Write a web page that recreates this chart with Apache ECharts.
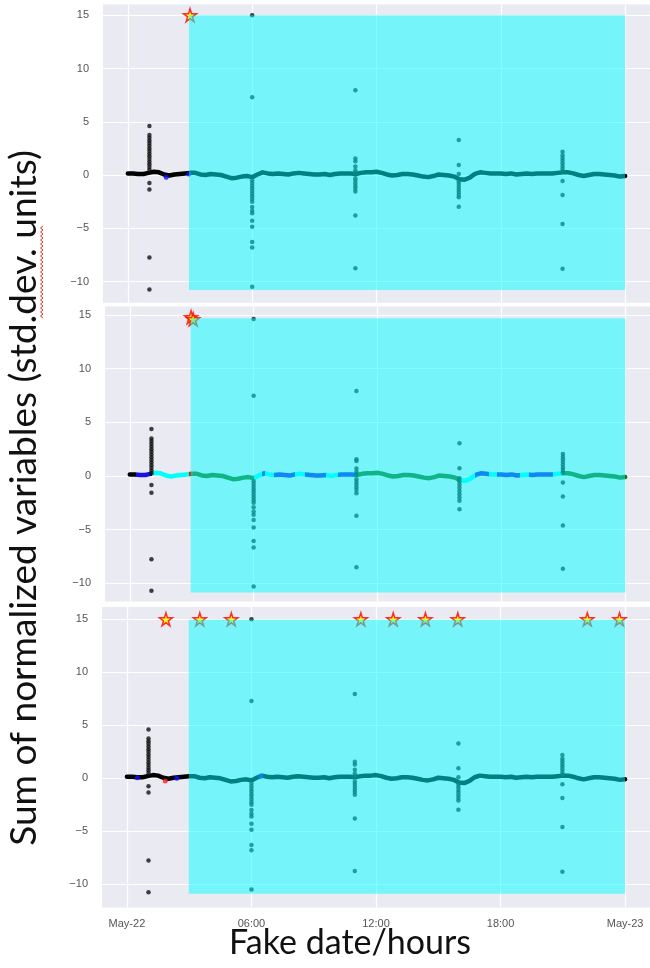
<!DOCTYPE html>
<html>
<head>
<meta charset="utf-8">
<script src="https://cdn.jsdelivr.net/npm/echarts@6/dist/echarts.min.js"></script>
<style>
html, body { margin: 0; padding: 0; background: #fff; }
#chart { width: 650px; height: 968px; }
</style>
</head>
<body>
<div id="chart"></div>
<script>
// x values are hours after May-22 00:00
var xTicks = [0, 6, 12, 18, 24];
var xTickLabels = ['May-22', '06:00', '12:00', '18:00', 'May-23'];
var yTicks = [-10, -5, 0, 5, 10, 15];

// slow baseline (same signal in the three panels)
var baseline = [
  [0, 0.15], [0.25, 0.15], [0.5, 0.1], [0.75, 0.1], [1, 0.2], [1.25, 0.3], [1.5, 0.25], [1.75, 0.05],
  [2, -0.05], [2.25, 0.05], [2.5, 0.1], [2.75, 0.15], [3, 0.2], [3.25, 0.2], [3.5, 0.05], [3.75, 0],
  [4, 0.1], [4.25, 0.05], [4.5, 0], [4.75, -0.15], [5, -0.3], [5.25, -0.25], [5.5, -0.15], [5.75, -0.1],
  [6, -0.2], [6.25, 0.05], [6.5, 0.25], [6.75, 0.15], [7, 0.1], [7.25, 0.15], [7.5, 0.1], [7.75, 0.05],
  [8, 0.15], [8.25, 0.2], [8.5, 0.15], [8.75, 0.1], [9, 0.05], [9.25, 0.05], [9.5, 0.1], [9.75, 0],
  [10, 0.1], [10.25, 0.15], [10.5, 0.15], [10.75, 0.15], [11, 0.1], [11.25, 0.2], [11.5, 0.25], [11.75, 0.25],
  [12, 0.3], [12.25, 0.2], [12.5, 0.05], [12.75, -0.05], [13, 0], [13.25, 0.1], [13.5, 0.1], [13.75, 0.05],
  [14, -0.05], [14.25, -0.15], [14.5, -0.2], [14.75, -0.1], [15, 0.05], [15.25, 0], [15.5, -0.05], [15.75, -0.15],
  [16, -0.4], [16.25, -0.45], [16.5, -0.25], [16.75, 0.1], [17, 0.25], [17.25, 0.2], [17.5, 0.15], [17.75, 0.15],
  [18, 0.15], [18.25, 0.1], [18.5, 0.15], [18.75, 0.05], [19, 0.1], [19.25, 0.15], [19.5, 0.1], [19.75, 0.15],
  [20, 0.15], [20.25, 0.15], [20.5, 0.15], [20.75, 0.2], [21, 0.25], [21.25, 0.25], [21.5, 0.15], [21.75, 0],
  [22, -0.1], [22.25, 0], [22.5, 0.1], [22.75, 0.1], [23, 0.05], [23.25, 0], [23.5, -0.05], [23.75, -0.15], [24, -0.1]
];

// outlier bursts, panels 1 and 3
var spikesA = [
  [1.04, 4.6], [1.04, 3.75], [1.04, 3.5], [1.04, 3.25], [1.04, 3.0], [1.04, 2.75], [1.04, 2.5], [1.04, 2.25],
  [1.04, 2.0], [1.04, 1.75], [1.04, 1.5], [1.04, 1.25], [1.04, 1.0], [1.04, 0.75], [1.04, 0.5],
  [1.04, -0.75], [1.04, -1.35], [1.04, -7.75], [1.04, -10.75],
  [6, 15], [6, 7.3], [6, -0.5], [6, -0.75], [6, -1.0], [6, -1.25], [6, -1.5], [6, -1.75], [6, -2.0],
  [6, -2.25], [6, -2.5], [6, -3.0], [6, -3.35], [6, -3.6], [6, -4.3], [6, -4.85], [6, -6.3], [6, -6.8], [6, -10.5],
  [10.98, 7.95], [10.98, 1.55], [10.98, 1.3], [10.98, 0.8], [10.98, 0.45], [10.98, 0.2], [10.98, -0.3],
  [10.98, -0.55], [10.98, -0.8], [10.98, -1.05], [10.98, -1.3], [10.98, -1.55], [10.98, -3.8], [10.98, -8.75],
  [15.97, 3.28], [15.97, 0.94], [15.97, 0.1], [15.97, -0.6], [15.97, -0.85], [15.97, -1.1], [15.97, -1.35],
  [15.97, -1.6], [15.97, -1.85], [15.97, -2.1], [15.97, -2.97],
  [20.98, 2.19], [20.98, 1.85], [20.98, 1.6], [20.98, 1.35], [20.98, 1.1], [20.98, 0.85], [20.98, 0.6],
  [20.98, 0.35], [20.98, -0.56], [20.98, -1.87], [20.98, -4.59], [20.98, -8.81]
];

// outlier bursts, panel 2
var spikesB = [
  [1.05, 4.38], [1.05, 3.5], [1.05, 3.25], [1.05, 3.0], [1.05, 2.75], [1.05, 2.5], [1.05, 2.25], [1.05, 2.0],
  [1.05, 1.75], [1.05, 1.5], [1.05, 1.25], [1.05, 1.0], [1.05, 0.75], [1.05, 0.5], [1.05, 0.25],
  [1.05, -0.84], [1.05, -1.55], [1.05, -7.76], [1.05, -10.7],
  [6, 14.63], [6, 7.48], [6, -0.5], [6, -0.75], [6, -1.0], [6, -1.25], [6, -1.5], [6, -1.75], [6, -2.0],
  [6, -2.25], [6, -2.5], [6, -2.9], [6, -3.3], [6, -3.6], [6, -4.1], [6, -4.8], [6, -6.06], [6, -6.65], [6, -10.3],
  [10.98, 7.92], [10.98, 1.55], [10.98, 1.4], [10.98, 0.7], [10.98, 0.4], [10.98, 0.15], [10.98, -0.3],
  [10.98, -0.55], [10.98, -0.8], [10.98, -1.05], [10.98, -1.3], [10.98, -1.6], [10.98, -3.7], [10.98, -8.5],
  [15.97, 3.05], [15.97, 0.72], [15.97, -0.2], [15.97, -0.5], [15.97, -0.8], [15.97, -1.1], [15.97, -1.4],
  [15.97, -1.7], [15.97, -2.0], [15.97, -2.3], [15.97, -3.1],
  [20.98, 2.05], [20.98, 1.8], [20.98, 1.55], [20.98, 1.3], [20.98, 1.05], [20.98, 0.8], [20.98, 0.55],
  [20.98, 0.3], [20.98, -0.6], [20.98, -1.9], [20.98, -4.6], [20.98, -8.65]
];

// a few off-colour cluster points sitting on the baseline
var bluePoints1 = [[1.85, -0.2], [2.95, 0.1]];
var bluePoints3 = [[0.5, 0.05], [2.4, 0.0], [6.45, 0.2]];
var redPoints3 = [[1.85, -0.25]];

// panel 2 cluster labels along the baseline: [from, to, cluster]
var p2Segments = [
  [-1, 0.3, 0], [0.3, 1.0, 1], [1.0, 1.1, 0], [1.1, 2.85, 2], [2.85, 3.05, 4], [3.05, 6.0, 3],
  [6.0, 6.4, 2], [6.4, 6.55, 1], [6.55, 7.0, 2], [7.0, 8.0, 1], [8.0, 8.5, 2], [8.5, 9.5, 1],
  [9.5, 10.1, 2], [10.1, 10.9, 1], [10.9, 16.0, 3], [16.0, 16.7, 2], [16.7, 17.4, 1], [17.4, 17.8, 2],
  [17.8, 18.9, 1], [18.9, 19.35, 2], [19.35, 20.5, 1], [20.5, 20.95, 2], [20.95, 25, 3]
];

// detected events (stars)
var stars1 = [[3.0, 15]];
var stars2 = [[2.97, 14.8], [3.07, 14.6]];
var stars3 = [[1.88, 15], [3.51, 15], [5.03, 15], [11.27, 15], [12.83, 15], [14.38, 15], [15.94, 15], [22.18, 15], [23.73, 15]];

// shaded "abnormal" window: [xFrom, xTo, yFrom, yTo]
var shade1 = [2.95, 24, -10.8, 15];
var shade2 = [2.95, 24, -10.85, 14.7];
var shade3 = [2.98, 24, -10.9, 14.95];

var clusterColors = ['#000000', '#1a10e8', '#00ffff', '#1e6a10', '#c03000'];
var starPath = 'path://M50,0 L61,35 L98,35 L68,57 L79,91 L50,70 L21,91 L32,57 L2,35 L39,35 Z';

var myChart = echarts.init(document.getElementById('chart'));

var panels = [
  { grid: { left: 103, top: 4.6, width: 549, height: 298.2 }, yMin: -12, yMax: 16, spikes: spikesA, stars: stars1, shade: shade1 },
  { grid: { left: 105, top: 306.4, width: 549, height: 295.2 }, yMin: -11.7, yMax: 15.8, spikes: spikesB, stars: stars2, shade: shade2 },
  { grid: { left: 102, top: 607.1, width: 549, height: 300.5 }, yMin: -12.2, yMax: 16.15, spikes: spikesA, stars: stars3, shade: shade3 }
];

var grids = [], xAxes = [], yAxes = [], series = [];
panels.forEach(function (p, i) {
  grids.push(Object.assign({ show: true, backgroundColor: '#eaeaf2', borderWidth: 0 }, p.grid));
  xAxes.push({
    type: 'value', gridIndex: i, min: -1.2, max: 25.2,
    axisLine: { show: false },
    axisTick: { show: false, customValues: xTicks },
    splitLine: { show: true, lineStyle: { color: '#ffffff', width: 1.2 } },
    axisLabel: {
      show: i === 2, customValues: xTicks, margin: 11,
      fontFamily: 'Liberation Sans', fontSize: 11, color: '#555',
      formatter: function (v) { return xTickLabels[xTicks.indexOf(v)]; }
    }
  });
  yAxes.push({
    type: 'value', gridIndex: i, min: p.yMin, max: p.yMax,
    axisLine: { show: false },
    axisTick: { show: false, customValues: yTicks },
    splitLine: { show: true, lineStyle: { color: '#ffffff', width: 1.2 } },
    axisLabel: {
      customValues: yTicks, margin: 14,
      fontFamily: 'Liberation Sans', fontSize: 11, color: '#555',
      formatter: function (v) { return String(v).replace('-', '\u2212'); }
    }
  });
  var lineStyle = { width: 4.5, cap: 'round', join: 'round' };
  if (i !== 1) lineStyle.color = '#000';
  series.push({
    type: 'line', xAxisIndex: i, yAxisIndex: i, data: baseline, z: 2,
    showSymbol: false, smooth: false, silent: true,
    itemStyle: { color: '#000' },
    lineStyle: lineStyle,
    markArea: {
      silent: true, z: 10,
      itemStyle: { color: 'rgba(0,255,255,0.5)' },
      data: [[{ coord: [p.shade[0], p.shade[2]] }, { coord: [p.shade[1], p.shade[3]] }]]
    }
  });
  series.push({
    type: 'scatter', xAxisIndex: i, yAxisIndex: i, data: p.spikes, z: 3,
    symbolSize: 4.5, itemStyle: { color: '#111' }
  });
  series.push({
    type: 'scatter', xAxisIndex: i, yAxisIndex: i, data: p.stars, z: 4,
    symbol: starPath, symbolSize: 13,
    itemStyle: { color: '#ffff00', borderColor: '#ff0000', borderWidth: 1.5 }
  });
});

series.push({ type: 'scatter', xAxisIndex: 0, yAxisIndex: 0, data: bluePoints1, z: 3, symbolSize: 5, itemStyle: { color: '#1010ff' } });
series.push({ type: 'scatter', xAxisIndex: 2, yAxisIndex: 2, data: bluePoints3, z: 3, symbolSize: 5, itemStyle: { color: '#1010ff' } });
series.push({ type: 'scatter', xAxisIndex: 2, yAxisIndex: 2, data: redPoints3, z: 3, symbolSize: 5, itemStyle: { color: '#ff2020' } });

// wavy spell-check underline next to "std.dev."
var wavy = [];
for (var yy = 226; yy <= 318; yy += 2) {
  wavy.push([(yy / 2) % 2 === 0 ? 40.5 : 43, yy]);
}

myChart.setOption({
  animation: false,
  backgroundColor: '#ffffff',
  grid: grids,
  xAxis: xAxes,
  yAxis: yAxes,
  visualMap: [{
    type: 'piecewise', show: false, seriesIndex: 3, dimension: 0,
    pieces: p2Segments.map(function (s) {
      return { gte: s[0], lt: s[1], color: clusterColors[s[2]] };
    })
  }],
  series: series,
  graphic: [
    {
      type: 'text', x: 24, y: 498, rotation: Math.PI / 2, silent: true,
      style: {
        text: 'Sum of normalized variables (std.dev. units)',
        font: '37px Lato', fill: '#111', align: 'center', verticalAlign: 'middle'
      }
    },
    {
      type: 'text', x: 350, y: 943, silent: true,
      style: {
        text: 'Fake date/hours',
        font: '34px Lato', fill: '#111', align: 'center', verticalAlign: 'middle'
      }
    },
    {
      type: 'polyline', silent: true,
      shape: { points: wavy },
      style: { stroke: '#e03030', lineWidth: 1, fill: null }
    }
  ]
});
</script>
</body>
</html>
